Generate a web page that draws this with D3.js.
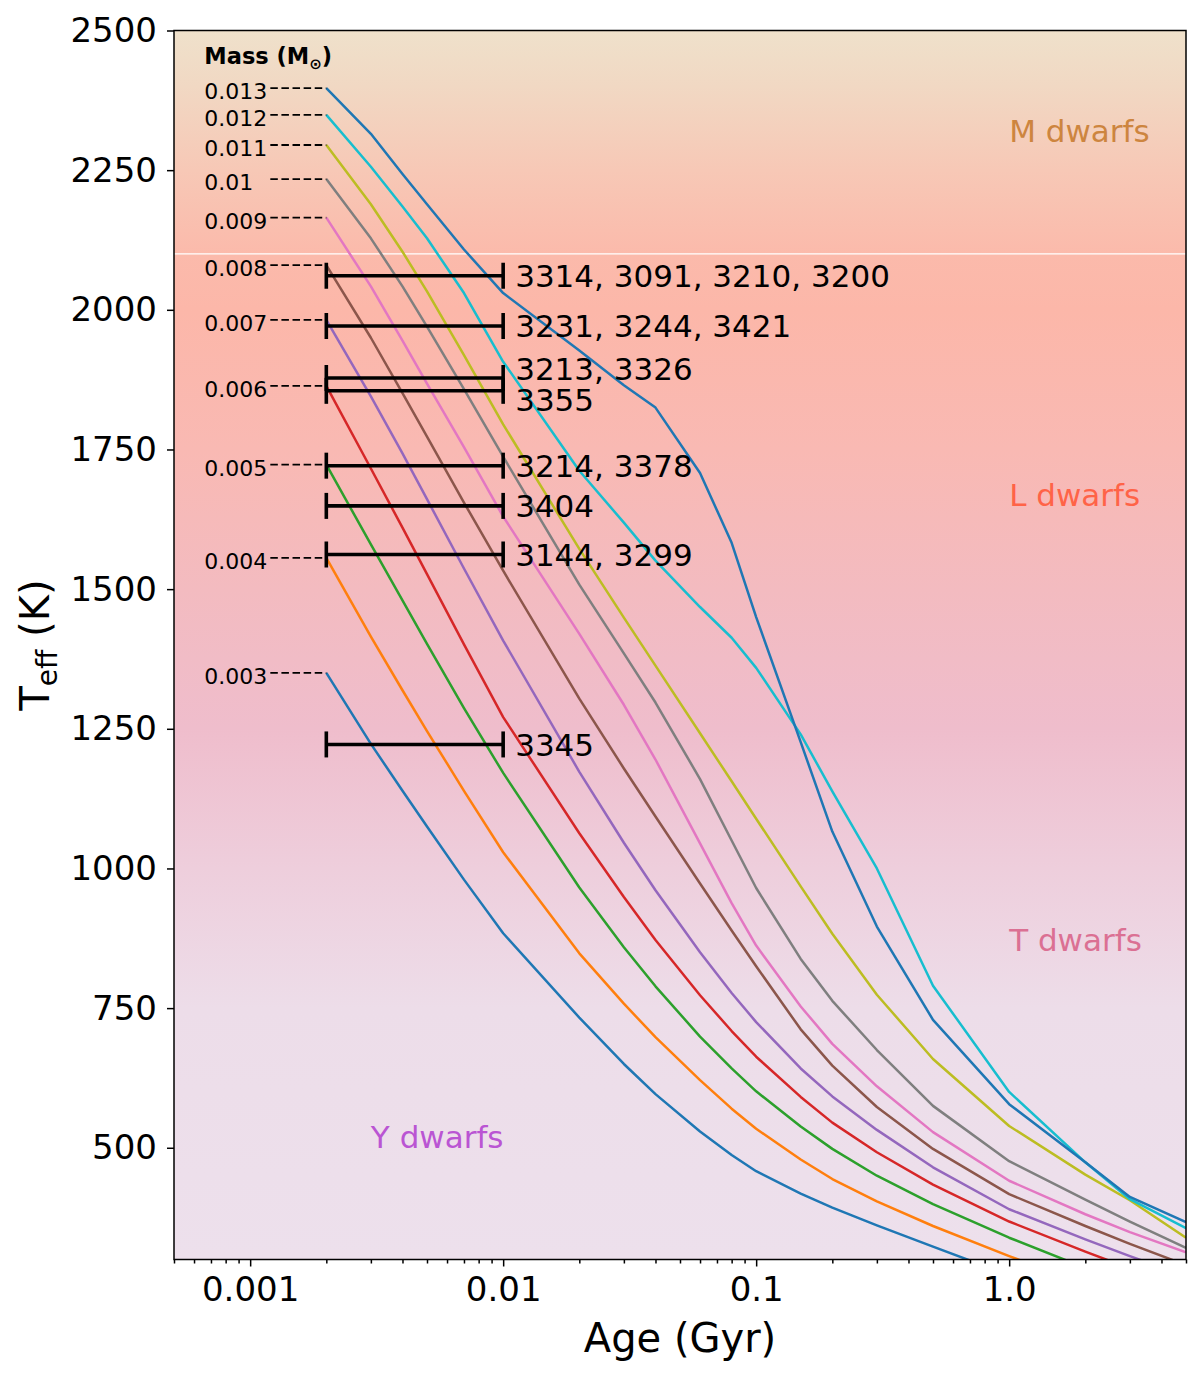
<!DOCTYPE html>
<html>
<head>
<meta charset="utf-8">
<script src="https://cdn.jsdelivr.net/npm/d3@7"></script>
<style>
  body { margin: 0; background: #fff; }
  svg text { font-family: "DejaVu Sans", sans-serif; }
</style>
</head>
<body>
<div id="chart"></div>
<script>
// ---------------------------------------------------------------------------------
// data

// ages of the track grid (Gyr)
const ages = [0.002, 0.003, 0.004, 0.005, 0.007, 0.01, 0.02, 0.03, 0.04, 0.06,
              0.08, 0.1, 0.15, 0.2, 0.3, 0.5, 1.0, 2.0, 3.0, 5.0];

// track masses (Msun), lowest first
const masses = ["0.003", "0.004", "0.005", "0.006", "0.007", "0.008",
                "0.009", "0.01", "0.011", "0.012", "0.013"];

// Teff (K) along each track
const teff_003 = [1350, 1223, 1139, 1075, 980, 884, 733, 650, 596, 529, 487, 458, 418, 393, 361, 323, 272, 224, 198, 167];
const teff_004 = [1556, 1415, 1319, 1246, 1139, 1029, 848, 758, 698, 621, 570, 534, 479, 444, 404, 360, 306, 255, 227, 194];
const teff_005 = [1723, 1580, 1480, 1402, 1287, 1171, 966, 859, 789, 699, 642, 601, 538, 498, 450, 399, 339, 285, 255, 219];
const teff_006 = [1864, 1716, 1610, 1527, 1401, 1271, 1063, 949, 872, 773, 709, 663, 591, 545, 492, 434, 368, 314, 284, 248];
const teff_007 = [1982, 1845, 1743, 1661, 1537, 1408, 1173, 1046, 961, 850, 777, 725, 642, 592, 532, 465, 390, 336, 306, 270];
const teff_008 = [2080, 1950, 1851, 1773, 1655, 1533, 1304, 1179, 1093, 973, 889, 825, 712, 647, 573, 498, 417, 360, 328, 290];
const teff_009 = [2165, 2042, 1945, 1868, 1754, 1630, 1420, 1293, 1195, 1045, 938, 862, 753, 686, 610, 528, 441, 381, 349, 313];
const teff_010 = [2234, 2128, 2042, 1970, 1858, 1737, 1508, 1385, 1297, 1160, 1050, 965, 838, 763, 675, 575, 476, 407, 368, 321];
const teff_011 = [2295, 2189, 2104, 2033, 1919, 1795, 1572, 1449, 1363, 1242, 1156, 1089, 968, 883, 774, 659, 539, 452, 406, 339];
const teff_012 = [2349, 2256, 2185, 2128, 2030, 1907, 1712, 1619, 1551, 1468, 1413, 1359, 1240, 1138, 1000, 790, 600, 474, 408, 356];
const teff_013 = [2397, 2315, 2243, 2189, 2108, 2030, 1927, 1865, 1825, 1708, 1583, 1450, 1226, 1066, 896, 729, 578, 474, 412, 367];

const tracks = [teff_003, teff_004, teff_005, teff_006, teff_007, teff_008,
                teff_009, teff_010, teff_011, teff_012, teff_013];

// objects: Teff and ids, age range 2-10 Myr
const obj_teff = [2061, 1971, 1878, 1855, 1721, 1649, 1562, 1222];
const obj_ids  = ["3314, 3091, 3210, 3200", "3231, 3244, 3421", "3213, 3326", "3355",
                  "3214, 3378", "3404", "3144, 3299", "3345"];
const obj_age  = [0.002, 0.01];

// spectral classes
const classes = ["M dwarfs", "L dwarfs", "T dwarfs", "Y dwarfs"];

// axes
const x_ticks       = [0.001, 0.01, 0.1, 1.0];
const x_tick_labels = ["0.001", "0.01", "0.1", "1.0"];
const y_ticks       = [500, 750, 1000, 1250, 1500, 1750, 2000, 2250, 2500];

// ---------------------------------------------------------------------------------
// layout

const chart_width = 1200, chart_height = 1376;
const plot_left = 174, plot_right = 1186, plot_top = 30.5, plot_bottom = 1259.5;

var svg = d3.select("#chart")
	.append("svg")
	.attr("width", chart_width)
	.attr("height", chart_height);

const x_scale = d3.scaleLog()
	.domain([0.0005, 5])
	.range([plot_left, plot_right]);

const y_scale = d3.scaleLinear()
	.domain([300, 2500])
	.range([plot_bottom, plot_top]);

// ---------------------------------------------------------------------------------
// background: vertical colour wash from M to Y dwarfs

const wash = [[2500, "#efe1cb"], [2400, "#f1d8c3"], [2250, "#f7c8b6"], [2100, "#fbbaab"],
              [2000, "#fcb7a9"], [1750, "#f9b9b3"], [1500, "#f3bbc0"], [1250, "#efbdcc"],
              [1000, "#eecedc"], [750, "#eddde9"], [300, "#ede0ec"]];

const defs = svg.append("defs");
const grad = defs.append("linearGradient")
	.attr("id", "wash")
	.attr("gradientUnits", "userSpaceOnUse")
	.attr("x1", 0).attr("x2", 0)
	.attr("y1", plot_top).attr("y2", plot_bottom);
grad.selectAll("stop")
	.data(wash)
	.enter()
	.append("stop")
	.attr("offset", d => (y_scale(d[0]) - plot_top) / (plot_bottom - plot_top))
	.attr("stop-color", d => d[1]);

defs.append("clipPath")
	.attr("id", "plot_clip")
	.append("rect")
	.attr("x", plot_left).attr("y", plot_top)
	.attr("width", plot_right - plot_left).attr("height", plot_bottom - plot_top);

svg.append("rect")
	.attr("x", plot_left).attr("y", plot_top)
	.attr("width", plot_right - plot_left).attr("height", plot_bottom - plot_top)
	.attr("fill", "url(#wash)");

// thin seam at the M/L boundary
svg.append("line")
	.attr("x1", plot_left).attr("x2", plot_right)
	.attr("y1", y_scale(2100)).attr("y2", y_scale(2100))
	.attr("stroke", "#ffffff")
	.attr("stroke-width", 1.2);

// ---------------------------------------------------------------------------------
// class labels

const class_pos = [[1.0, 2300], [1.0, 1648], [1.0, 852], [0.003, 500]];
const class_col = ["#cd853f", "#ff6347", "#db7093", "#ba55d3"];

svg.selectAll(".cls")
	.data(classes)
	.enter()
	.append("text")
	.attr("class", "cls")
	.attr("x", (d, i) => x_scale(class_pos[i][0]))
	.attr("y", (d, i) => y_scale(class_pos[i][1]))
	.attr("font-size", 31)
	.attr("fill", (d, i) => class_col[i])
	.text(d => d);

// ---------------------------------------------------------------------------------
// tracks

const line = d3.line()
	.x((d, i) => x_scale(ages[i]))
	.y(d => y_scale(d));

svg.append("g")
	.attr("clip-path", "url(#plot_clip)")
	.selectAll("path")
	.data(tracks)
	.enter()
	.append("path")
	.attr("d", d => line(d))
	.attr("fill", "none")
	.attr("stroke", (d, i) => d3.schemeCategory10[i % 10])
	.attr("stroke-width", 2.5)
	.attr("stroke-linejoin", "round");

// mass labels with dashed leaders to the track start
const x_start = x_scale(ages[0]);

svg.selectAll(".lead")
	.data(tracks)
	.enter()
	.append("line")
	.attr("class", "lead")
	.attr("x1", x_start - 56).attr("x2", x_start)
	.attr("y1", d => y_scale(d[0])).attr("y2", d => y_scale(d[0]))
	.attr("stroke", "#000")
	.attr("stroke-width", 1.8)
	.attr("stroke-dasharray", "7.5,3.6");

svg.selectAll(".mass")
	.data(masses)
	.enter()
	.append("text")
	.attr("class", "mass")
	.attr("x", x_start - 122)
	.attr("y", (d, i) => y_scale(tracks[i][0]) + 11)
	.attr("font-size", 22)
	.attr("fill", "#000")
	.text(d => d);

const head = svg.append("text")
	.attr("x", x_start - 122)
	.attr("y", 64)
	.attr("font-size", 22.5)
	.attr("font-weight", "bold");
head.append("tspan").text("Mass (M");
head.append("tspan").attr("font-size", 15).attr("dy", 5).text("\u2299");
head.append("tspan").attr("dy", -5).text(")");

// ---------------------------------------------------------------------------------
// object age ranges

const bars = svg.append("g")
	.attr("stroke", "#000")
	.attr("stroke-width", 3.6);

bars.selectAll(".hbar")
	.data(obj_teff)
	.enter()
	.append("line")
	.attr("class", "hbar")
	.attr("x1", x_scale(obj_age[0]))
	.attr("x2", x_scale(obj_age[1]))
	.attr("y1", d => y_scale(d))
	.attr("y2", d => y_scale(d));

obj_age.forEach((a, k) => {
	bars.selectAll(".cap" + k)
		.data(obj_teff)
		.enter()
		.append("line")
		.attr("class", "cap" + k)
		.attr("x1", x_scale(a)).attr("x2", x_scale(a))
		.attr("y1", d => y_scale(d) - 13)
		.attr("y2", d => y_scale(d) + 13);
});

// the two close bars get their labels pushed apart
const label_dy = [0, 0, -9, 9, 0, 0, 0, 0];

svg.selectAll(".ids")
	.data(obj_ids)
	.enter()
	.append("text")
	.attr("class", "ids")
	.attr("x", x_scale(obj_age[1]) + 12)
	.attr("y", (d, i) => y_scale(obj_teff[i]) + label_dy[i])
	.attr("dy", "0.36em")
	.attr("font-size", 31)
	.attr("fill", "#000")
	.text(d => d);

// ---------------------------------------------------------------------------------
// axes

const minor = [0.0005];
[-4, -3, -2, -1, 0].forEach(e => {
	for (let k = 2; k <= 9; k++) {
		const v = k * Math.pow(10, e);
		if (v > 0.0005 && v <= 5) minor.push(v);
	}
});

const x_axis = d3.axisBottom(x_scale)
	.tickValues(x_ticks)
	.tickFormat((d, i) => x_tick_labels[i])
	.tickSize(7)
	.tickPadding(10);

const x_minor = d3.axisBottom(x_scale)
	.tickValues(minor)
	.tickFormat("")
	.tickSize(4);

const y_axis = d3.axisLeft(y_scale)
	.tickValues(y_ticks)
	.tickFormat(d3.format("d"))
	.tickSize(7)
	.tickPadding(10);

const gx = svg.append("g")
	.attr("transform", "translate(0," + plot_bottom + ")")
	.call(x_axis);
const gxm = svg.append("g")
	.attr("transform", "translate(0," + plot_bottom + ")")
	.call(x_minor);
const gy = svg.append("g")
	.attr("transform", "translate(" + plot_left + ",0)")
	.call(y_axis);

[gx, gxm, gy].forEach(g => {
	g.select(".domain").remove();
	g.selectAll(".tick line").attr("stroke", "#000").attr("stroke-width", 1.5);
	g.selectAll(".tick text")
		.attr("font-family", "DejaVu Sans, sans-serif")
		.attr("font-size", 34)
		.attr("fill", "#000");
});

// frame
svg.append("rect")
	.attr("x", plot_left).attr("y", plot_top)
	.attr("width", plot_right - plot_left).attr("height", plot_bottom - plot_top)
	.attr("fill", "none")
	.attr("stroke", "#000")
	.attr("stroke-width", 1.5);

// axis titles
svg.append("text")
	.attr("x", (plot_left + plot_right) / 2)
	.attr("y", 1352)
	.attr("text-anchor", "middle")
	.attr("font-size", 40)
	.text("Age (Gyr)");

const ylab = svg.append("text")
	.attr("transform", "translate(49," + ((plot_top + plot_bottom) / 2) + ") rotate(-90)")
	.attr("text-anchor", "middle")
	.attr("font-size", 40);
ylab.append("tspan").text("T");
ylab.append("tspan").attr("font-size", 28).attr("dy", 8).text("eff");
ylab.append("tspan").attr("dy", -8).text(" (K)");
</script>
</body>
</html>
